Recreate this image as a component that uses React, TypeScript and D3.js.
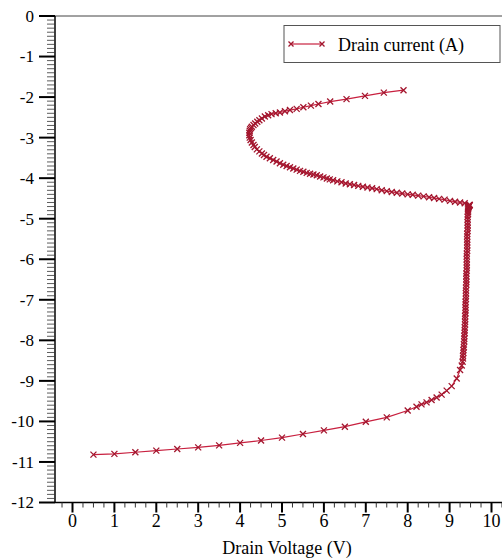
import React from "react";
import * as d3 from "d3";

// Drain voltage (V) and drain current (A), ordered along the curve
const voltage: number[] = [
  0.5, 1.0, 1.5, 2.0, 2.5, 3.0, 3.5, 4.0, 4.5, 5.0, 5.5, 6.0, 6.5, 7.0, 7.5, 8.0,
  8.21, 8.33, 8.45, 8.57, 8.69, 8.81, 8.93, 9.05, 9.17, 9.25, 9.29, 9.31,
  9.32, 9.32, 9.33, 9.33, 9.34, 9.34, 9.35, 9.35, 9.35, 9.36, 9.36, 9.36, 9.37, 9.37, 9.37, 9.37,
  9.38, 9.38, 9.38, 9.38, 9.38, 9.39, 9.39, 9.39, 9.39, 9.39, 9.4, 9.4, 9.4, 9.4, 9.4, 9.41,
  9.41, 9.41, 9.41, 9.41, 9.41, 9.41, 9.42, 9.42, 9.42, 9.42, 9.42, 9.42, 9.42, 9.43, 9.43,
  9.43, 9.43, 9.43, 9.43, 9.44, 9.44, 9.44, 9.44, 9.44, 9.45, 9.45, 9.45, 9.46, 9.46, 9.46,
  9.47, 9.47, 9.48, 9.48,
  9.36, 9.25, 9.13, 9.01, 8.88, 8.75, 8.63, 8.51, 8.38, 8.25, 8.12, 8.0, 7.87, 7.74, 7.62, 7.5,
  7.38, 7.26, 7.15, 7.04, 6.93, 6.82, 6.72, 6.62, 6.52, 6.42, 6.32, 6.22, 6.14, 6.07, 5.99,
  5.91, 5.83, 5.75, 5.67, 5.59, 5.51, 5.43, 5.35, 5.27, 5.19, 5.11, 5.03, 4.95, 4.87, 4.79,
  4.71, 4.63, 4.57, 4.52, 4.46, 4.4, 4.35, 4.32, 4.28, 4.25, 4.23, 4.22, 4.22, 4.23, 4.24,
  4.26, 4.28, 4.32, 4.36, 4.41, 4.46, 4.52, 4.59, 4.67, 4.75, 4.85, 4.95, 5.07, 5.19, 5.35,
  5.51, 5.69, 5.87, 6.15, 6.54, 6.98, 7.43, 7.9,
];
const current: number[] = [
  -10.82, -10.8, -10.76, -10.72, -10.68, -10.64, -10.59, -10.53, -10.47, -10.4, -10.31, -10.22, -10.13, -10.01, -9.9, -9.73,
  -9.64, -9.58, -9.53, -9.47, -9.41, -9.34, -9.24, -9.13, -8.94, -8.73, -8.62, -8.53,
  -8.45, -8.38, -8.31, -8.24, -8.17, -8.1, -8.03, -7.96, -7.89, -7.82, -7.75, -7.68, -7.61, -7.54, -7.47, -7.4,
  -7.33, -7.26, -7.19, -7.12, -7.05, -6.98, -6.91, -6.84, -6.77, -6.7, -6.63, -6.56, -6.49, -6.42, -6.35, -6.28,
  -6.21, -6.14, -6.07, -6.0, -5.93, -5.86, -5.79, -5.72, -5.65, -5.58, -5.51, -5.44, -5.37, -5.3, -5.23,
  -5.16, -5.09, -5.02, -4.95, -4.89, -4.84, -4.8, -4.77, -4.74, -4.72, -4.71, -4.7, -4.69, -4.68, -4.68,
  -4.67, -4.67, -4.66, -4.66,
  -4.62, -4.6, -4.58, -4.56, -4.53, -4.51, -4.49, -4.47, -4.45, -4.43, -4.41, -4.4, -4.38, -4.36, -4.34, -4.32,
  -4.3, -4.27, -4.25, -4.23, -4.21, -4.19, -4.17, -4.15, -4.13, -4.1, -4.08, -4.05, -4.03, -4.01, -3.98,
  -3.96, -3.93, -3.91, -3.89, -3.87, -3.84, -3.82, -3.79, -3.76, -3.73, -3.7, -3.67, -3.63, -3.59, -3.55,
  -3.51, -3.47, -3.43, -3.39, -3.34, -3.29, -3.23, -3.18, -3.12, -3.06, -3.0, -2.94, -2.88, -2.83, -2.79,
  -2.76, -2.73, -2.69, -2.65, -2.61, -2.57, -2.53, -2.48, -2.45, -2.42, -2.4, -2.38, -2.35, -2.32, -2.29,
  -2.25, -2.21, -2.17, -2.11, -2.05, -1.97, -1.89, -1.83,
];

const xTickValues: number[] = [0, 1, 2, 3, 4, 5, 6, 7, 8, 9, 10];
const yTickValues: number[] = [0, -1, -2, -3, -4, -5, -6, -7, -8, -9, -10, -11, -12];
const xLabel = "Drain Voltage (V)";
const legendLabel = "Drain current (A)";

const W = 502;
const H = 559;
const FONT = "Liberation Serif, Tinos, Times New Roman, DejaVu Serif, serif";
const LINE_COLOR = "#c8203f";
const MARK_COLOR = "#a3162e";

export default function App() {
  const x = d3.scaleLinear().domain([0, 10]).range([72.5, 491.5]);
  const y = d3.scaleLinear().domain([0, -12]).range([16, 502.5]);
  const axisX = 55;
  const axisY = 502.5;

  const pts = voltage.map((v, i) => [v, current[i]] as [number, number]);
  const line = d3
    .line<[number, number]>()
    .x((d) => x(d[0]))
    .y((d) => y(d[1]));

  const xMinor = d3.range(-0.25, 10.3, 0.25).filter((v) => Math.abs(v - Math.round(v)) > 1e-6);
  const yMinor = d3.range(0, -12.01, -0.1).filter((v) => Math.abs(v - Math.round(v)) > 1e-6);

  const cross = (cx: number, cy: number, s: number, key: string | number) => (
    <path
      key={key}
      d={`M${cx - s},${cy - s}L${cx + s},${cy + s}M${cx - s},${cy + s}L${cx + s},${cy - s}`}
      stroke={MARK_COLOR}
      strokeWidth={1.3}
      fill="none"
    />
  );

  const xText = { fontFamily: FONT, fontSize: 18 };
  const yText = { fontFamily: FONT, fontSize: 17 };

  return (
    <svg
      width={W}
      height={H}
      style={{ position: "absolute", left: 0, top: 0, background: "#fff" }}
    >
      {/* frame top */}
      <line x1={axisX} x2={W} y1={16} y2={16} stroke="#444" strokeWidth={1} />
      {/* axes */}
      <line x1={axisX} x2={axisX} y1={16} y2={axisY} stroke="#000" strokeWidth={1.5} />
      <line x1={axisX} x2={W} y1={axisY} y2={axisY} stroke="#000" strokeWidth={1.5} />

      {/* y minor ticks */}
      {yMinor.map((v, i) => (
        <line key={"ym" + i} x1={axisX - 8} x2={axisX} y1={y(v)} y2={y(v)} stroke="#333" strokeWidth={0.8} />
      ))}
      {/* y major ticks */}
      {yTickValues.map((v) => (
        <g key={"y" + v}>
          <line x1={axisX - 16} x2={axisX} y1={y(v)} y2={y(v)} stroke="#000" strokeWidth={2} />
          <text x={34} y={y(v)} dy="0.35em" textAnchor="end" style={yText} fill="#000">
            {v}
          </text>
        </g>
      ))}

      {/* x minor ticks */}
      {xMinor.map((v, i) => (
        <line key={"xm" + i} x1={x(v)} x2={x(v)} y1={axisY} y2={axisY + 5} stroke="#333" strokeWidth={1} />
      ))}
      {/* x major ticks */}
      {xTickValues.map((v) => (
        <g key={"x" + v}>
          <line x1={x(v)} x2={x(v)} y1={axisY} y2={axisY + 10} stroke="#000" strokeWidth={2} />
          <text x={x(v)} y={527} textAnchor="middle" style={xText} fill="#000">
            {v}
          </text>
        </g>
      ))}
      <text x={287} y={554} textAnchor="middle" style={xText} fill="#000">
        {xLabel}
      </text>

      {/* series */}
      <path d={line(pts) || ""} fill="none" stroke={LINE_COLOR} strokeWidth={1.2} />
      {pts.map((p, i) => cross(x(p[0]), y(p[1]), 3, i))}

      {/* legend */}
      <rect x={284} y={25.5} width={216} height={37} fill="#fff" stroke="#555" strokeWidth={1} />
      <line x1={291} x2={322} y1={44} y2={44} stroke={LINE_COLOR} strokeWidth={1.2} />
      {cross(291, 44, 2.5, "l1")}
      {cross(322, 44, 2.5, "l2")}
      <text x={338} y={51} style={xText} fill="#000">
        {legendLabel}
      </text>
    </svg>
  );
}
